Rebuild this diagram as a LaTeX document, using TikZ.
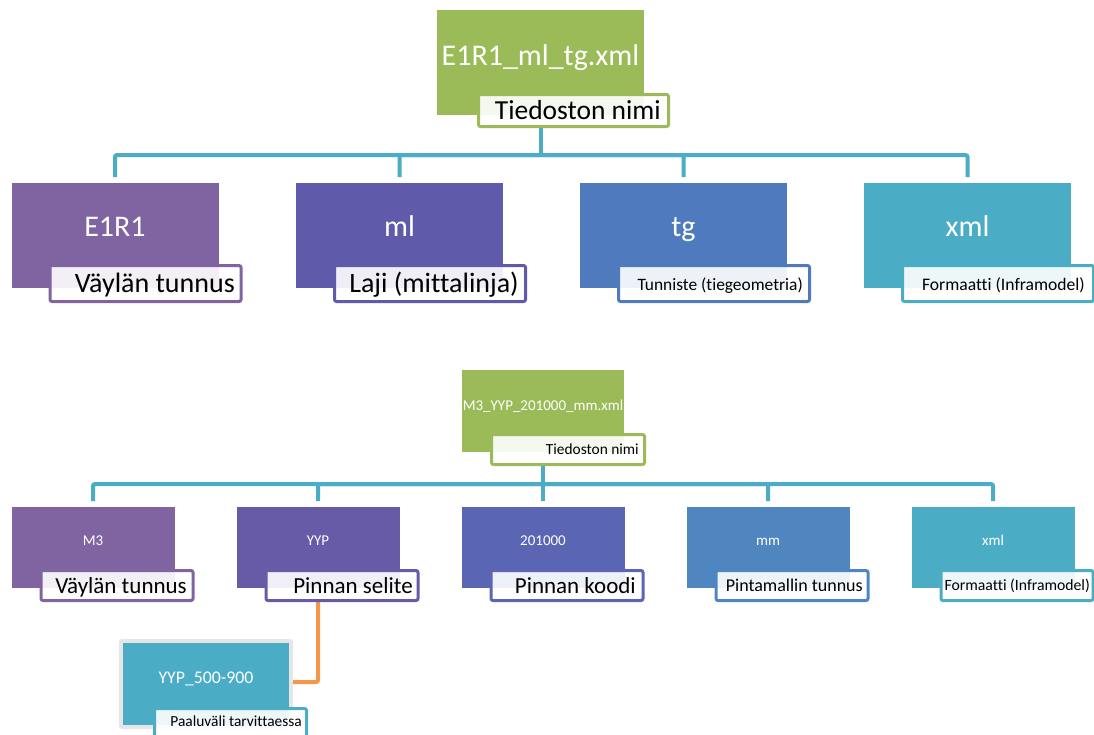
\documentclass[tikz,border=0pt]{standalone}
\usepackage{fontspec}
\setmainfont[Ligatures=NoCommon]{Carlito}
\definecolor{cgreen}{HTML}{9BBB59}
\definecolor{cpurple}{HTML}{8064A2}
\definecolor{cml}{HTML}{5F5AAA}
\definecolor{ctg}{HTML}{4F7BBE}
\definecolor{caqua}{HTML}{4BACC6}
\definecolor{cyyp}{HTML}{675BA8}
\definecolor{ccode}{HTML}{5A66B4}
\definecolor{cmm}{HTML}{4F86C0}
\definecolor{corange}{HTML}{F79646}
\definecolor{cframe}{HTML}{E6E6E6}
\newcommand\myfs[1]{\fontsize{#1}{#1}\selectfont}
\begin{document}
\begin{tikzpicture}[x=1pt,y=-1pt,
  box/.style={draw=none, inner sep=0pt, outer sep=0pt},
  lab/.style={fill=white, fill opacity=0.9, text opacity=1, line width=3pt, rounded corners=2pt, inner sep=0pt, outer sep=0pt},
  conn/.style={draw=caqua, line width=4pt, rounded corners=2pt},
  oconn/.style={draw=corange, line width=4pt, rounded corners=2pt},
  wt/.style={text=white, anchor=base, inner sep=0pt},
  bt/.style={text=black, anchor=base east, inner sep=0pt},
]
\useasboundingbox (0,0) rectangle (1094,734);
\begin{scope}
\clip (0,0) rectangle (1094,734);
% ---------- coordinates for connectors
\coordinate (h1) at (540.5,155);
\coordinate (h2) at (543,484);
\coordinate (ob) at (318,682);
% ---------- top diagram boxes (positions)
\path
  (540.5,62.5) node[box, minimum width=207pt, minimum height=105pt] (g1) {}
  (573.5,110.5) node[box, minimum width=190pt, minimum height=32pt] (gl1) {}
  (115,235.5) node[box, minimum width=207pt, minimum height=105pt] (b1) {}
  (399.5,235.5) node[box, minimum width=207pt, minimum height=105pt] (b2) {}
  (683.5,235.5) node[box, minimum width=207pt, minimum height=105pt] (b3) {}
  (967.5,235.5) node[box, minimum width=207pt, minimum height=105pt] (b4) {};
% ---------- bottom diagram boxes (positions)
\path
  (543,411) node[box, minimum width=162pt, minimum height=82pt] (g2) {}
  (568,449.5) node[box, minimum width=153pt, minimum height=30pt] (gl2) {}
  (93,547.5) node[box, minimum width=163pt, minimum height=81pt] (c1) {}
  (318,547.5) node[box, minimum width=163pt, minimum height=81pt] (c2) {}
  (543,547.5) node[box, minimum width=163pt, minimum height=81pt] (c3) {}
  (768,547.5) node[box, minimum width=163pt, minimum height=81pt] (c4) {}
  (993,547.5) node[box, minimum width=163pt, minimum height=81pt] (c5) {}
  (342,585.5) node[box, minimum width=152pt, minimum height=30pt] (cl2) {};
% ---------- connectors
\draw[conn] (g1.south |- gl1.south) -- (h1);
\foreach \b in {b1,b2,b3,b4} \draw[conn, shorten >=6pt] (h1) -| (\b.north);
\draw[conn] (g2.south |- gl2.south) -- (h2);
\foreach \b in {c1,c2,c3,c4,c5} \draw[conn, shorten >=6pt] (h2) -| (\b.north);
\node[box, fill=cframe, rounded corners=3pt, minimum width=174pt, minimum height=90pt] (yf) at (206,684) {};
\draw[oconn] (c2.south |- cl2.south) -- (ob) -- (yf.east |- ob);
% ---------- top diagram fills
\node[box, fill=cgreen, minimum width=207pt, minimum height=105pt] at (g1) {};
\node[lab, draw=cgreen, minimum width=190pt, minimum height=32pt] at (gl1) {};
\node[box, fill=cpurple, minimum width=207pt, minimum height=105pt] at (b1) {};
\node[box, fill=cml, minimum width=207pt, minimum height=105pt] at (b2) {};
\node[box, fill=ctg, minimum width=207pt, minimum height=105pt] at (b3) {};
\node[box, fill=caqua, minimum width=207pt, minimum height=105pt] at (b4) {};
\node[lab, draw=cpurple, minimum width=191pt, minimum height=36pt] (l1) at (145.5,283.5) {};
\node[lab, draw=cml, minimum width=191pt, minimum height=36pt] (l2) at (430,283.5) {};
\node[lab, draw=ctg, minimum width=191pt, minimum height=36pt] (l3) at (714,283.5) {};
\node[lab, draw=caqua, minimum width=191pt, minimum height=36pt] (l4) at (998,283.5) {};
% ---------- bottom diagram fills
\node[box, fill=cgreen, minimum width=162pt, minimum height=82pt] at (g2) {};
\node[lab, draw=cgreen, minimum width=153pt, minimum height=30pt] at (gl2) {};
\node[box, fill=cpurple, minimum width=163pt, minimum height=81pt] at (c1) {};
\node[box, fill=cyyp, minimum width=163pt, minimum height=81pt] at (c2) {};
\node[box, fill=ccode, minimum width=163pt, minimum height=81pt] at (c3) {};
\node[box, fill=cmm, minimum width=163pt, minimum height=81pt] at (c4) {};
\node[box, fill=caqua, minimum width=163pt, minimum height=81pt] at (c5) {};
\node[lab, draw=cpurple, minimum width=152pt, minimum height=30pt] (cl1) at (117,585.5) {};
\node[lab, draw=cyyp, minimum width=152pt, minimum height=30pt] at (cl2) {};
\node[lab, draw=ccode, minimum width=152pt, minimum height=30pt] (cl3) at (567,585.5) {};
\node[lab, draw=cmm, minimum width=152pt, minimum height=30pt] (cl4) at (792,585.5) {};
\node[lab, draw=caqua, minimum width=152pt, minimum height=30pt] (cl5) at (1017,585.5) {};
% ---------- YYP_500-900
\node[box, fill=caqua, minimum width=166pt, minimum height=82pt] (yb) at (206,684) {};
\node[lab, draw=caqua, minimum width=152pt, minimum height=30pt] (yl) at (230.5,723.5) {};
% ---------- texts
\node[wt] (g1t) at (540.5,65) {\myfs{30}E1R1\_ml\_tg.xml};
\node[bt] (gl1t) at (661,119) {\myfs{27.5}Tiedoston nimi};
\node[wt] (b1t) at (115,236) {\myfs{30}E1R1};
\node[wt] (b2t) at (399.5,236) {\myfs{30}ml};
\node[wt] (b3t) at (683.5,236) {\myfs{30}tg};
\node[wt] (b4t) at (967.5,236) {\myfs{30}xml};
\node[bt] (l1t) at (235,292) {\myfs{28}Väylän tunnus};
\node[bt] (l2t) at (519,292) {\myfs{28}Laji (mittalinja)};
\node[bt] (l3t) at (803,290) {\myfs{17.4}Tunniste (tiegeometria)};
\node[bt] (l4t) at (1085,290) {\myfs{17.6}Formaatti (Inframodel)};
\node[wt] (g2t) at (543,410) {\myfs{15}M3\_YYP\_201000\_mm.xml};
\node[bt] (gl2t) at (639,454) {\myfs{15.4}Tiedoston nimi};
\node[wt] (c1t) at (93,545) {\myfs{15}M3};
\node[wt] (c2t) at (318,545) {\myfs{15}YYP};
\node[wt] (c3t) at (543,545) {\myfs{15}201000};
\node[wt] (c4t) at (768,545) {\myfs{15}mm};
\node[wt] (c5t) at (993,545) {\myfs{15}xml};
\node[bt] (cl1t) at (187,593) {\myfs{23}Väylän tunnus};
\node[bt] (cl2t) at (413,593) {\myfs{23}Pinnan selite};
\node[bt] (cl3t) at (636,593) {\myfs{23}Pinnan koodi};
\node[bt] (cl4t) at (863,591) {\myfs{18}Pintamallin tunnus};
\node[bt] (cl5t) at (1090,590) {\myfs{15.7}Formaatti (Inframodel)};
\node[wt] (ybt) at (206,683) {\myfs{17.8}YYP\_500-900};
\node[bt] (ylt) at (302,726) {\myfs{15.4}Paaluväli tarvittaessa};
\end{scope}
\end{tikzpicture}
\end{document}
